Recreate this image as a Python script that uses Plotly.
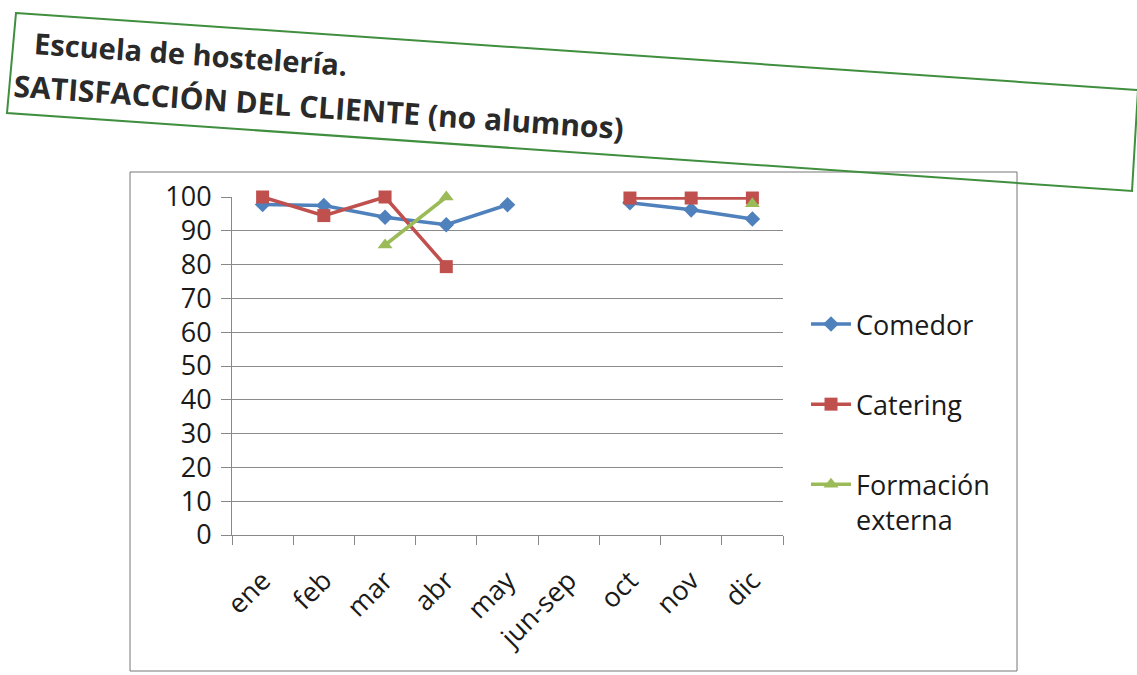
import plotly.graph_objects as go

categories = ["ene", "feb", "mar", "abr", "may", "jun-sep", "oct", "nov", "dic"]
comedor = [97.8, 97.5, 94.0, 91.8, 97.7, None, 98.3, 96.2, 93.5]
catering = [100, 94.5, 100, 79.4, None, None, 99.7, 99.7, 99.7]
formacion = [None, None, 85.8, 100, None, None, None, None, 98.0]
y_ticks = [0, 10, 20, 30, 40, 50, 60, 70, 80, 90, 100]

W, H = 1137, 675
L, R, T, B = 232, 783, 197, 535


def px(x):
    return (x - L) / (R - L)


def py(y):
    return (B - y) / (B - T)


FONT = "Open Sans"

fig = go.Figure()
fig.add_trace(go.Scatter(x=categories, y=comedor, name="Comedor", mode="lines+markers",
                         line=dict(color="#4F81BD", width=3.5),
                         marker=dict(symbol="diamond", size=12, color="#4F81BD"),
                         cliponaxis=False, legendgroup="a"))
fig.add_trace(go.Scatter(x=categories, y=catering, name="Catering", mode="lines+markers",
                         line=dict(color="#C0504D", width=3.5),
                         marker=dict(symbol="square", size=13, color="#C0504D"),
                         cliponaxis=False, legendgroup="b"))
fig.add_trace(go.Scatter(x=categories, y=formacion, name="Formación<br>externa", mode="lines+markers",
                         line=dict(color="#9BBB59", width=3.5),
                         marker=dict(symbol="triangle-up", size=13, color="#9BBB59"),
                         cliponaxis=False, legendgroup="c"))

fig.update_layout(
    width=W, height=H,
    margin=dict(l=L, r=W - R, t=T, b=H - B, autoexpand=False),
    paper_bgcolor="white", plot_bgcolor="white",
    font=dict(family=FONT, size=26, color="#1a1a1a"),
    showlegend=True,
    legend=dict(x=px(806), y=py(300), xanchor="left", yanchor="top",
                font=dict(size=27, family=FONT), tracegroupgap=42, valign="top",
                bgcolor="rgba(0,0,0,0)", itemwidth=40),
    xaxis=dict(type="category", tickson="boundaries", ticks="outside", ticklen=9,
               tickcolor="#888", showline=True, linecolor="#888", linewidth=1,
               tickangle=-45, showgrid=False, tickfont=dict(size=27, family=FONT),
               ticklabelstandoff=18, range=[-0.5, 8.5]),
    yaxis=dict(range=[0, 100], tickvals=y_ticks, ticks="outside", ticklen=10,
               tickcolor="#888", showline=True, linecolor="#888", linewidth=1,
               showgrid=True, gridcolor="#8a8a8a", gridwidth=1, zeroline=False,
               tickfont=dict(size=27, family=FONT), ticklabelstandoff=4),
)

# outer chart border
fig.add_shape(type="rect", xref="paper", yref="paper",
              x0=px(130), x1=px(1017), y0=py(671), y1=py(172),
              line=dict(color="#777", width=1), fillcolor="rgba(0,0,0,0)")

# rotated title box
corners = [(16, 13), (1138, 90), (1132, 191), (7, 113)]
path = "M " + " L ".join(f"{px(x)},{py(y)}" for x, y in corners) + " Z"
fig.add_shape(type="path", xref="paper", yref="paper", path=path,
              line=dict(color="#3f8f3f", width=2), fillcolor="rgba(0,0,0,0)")

fig.add_annotation(text="<b>Escuela de hostelería.</b>", xref="paper", yref="paper",
                   x=px(191), y=py(54), xanchor="center", yanchor="middle",
                   showarrow=False, textangle=4, font=dict(size=29, family=FONT, color="#2a2a2a"))
fig.add_annotation(text="<b>SATISFACCIÓN DEL CLIENTE (no alumnos)</b>", xref="paper", yref="paper",
                   x=px(318), y=py(107), xanchor="center", yanchor="middle",
                   showarrow=False, textangle=4, font=dict(size=30, family=FONT, color="#2a2a2a"))

fig.write_html("out.html", config={"displayModeBar": False},
               post_script="document.body.style.margin='0';document.body.style.overflow='hidden';")
